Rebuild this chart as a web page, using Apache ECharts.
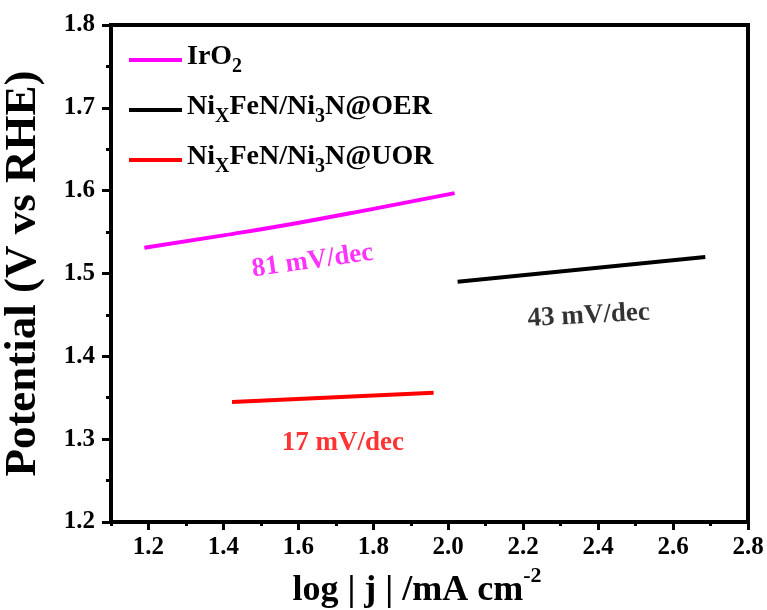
<!DOCTYPE html>
<html><head><meta charset="utf-8">
<script src="https://cdn.jsdelivr.net/npm/echarts@6/dist/echarts.min.js"></script>
<style>html,body{margin:0;padding:0;background:#fff}#c{width:767px;height:610px}</style>
</head><body><div id="c"></div>
<script>
// ---- data ----
const seriesNames = ['IrO2', 'NixFeN/Ni3N@OER', 'NixFeN/Ni3N@UOR'];
const irO2Data = [[1.189, 1.531], [1.40, 1.546], [1.598, 1.561], [1.80, 1.578], [2.017, 1.597]];
const oerData = [[2.025, 1.490], [2.686, 1.520]];
const uorData = [[1.423, 1.345], [1.961, 1.356]];
const xMajorTicks = [1.2, 1.4, 1.6, 1.8, 2.0, 2.2, 2.4, 2.6, 2.8];
const annotationTexts = ['81 mV/dec', '43 mV/dec', '17 mV/dec'];
const annotationPoints = [[1.638, 1.515], [2.375, 1.449], [1.719, 1.295]];

// ---- styles ----
const FONT = "'Liberation Serif','Times New Roman',serif";
const colors = ['#ff00ff', '#000000', '#ff0000'];
const annRotate = [8, 3, 0];
const legendRich = {
  'IrO2': '{a|IrO}{s|2}',
  'NixFeN/Ni3N@OER': '{a|Ni}{s|X}{a|FeN/Ni}{s|3}{a|N@OER}',
  'NixFeN/Ni3N@UOR': '{a|Ni}{s|X}{a|FeN/Ni}{s|3}{a|N@UOR}'
};

const chart = echarts.init(document.getElementById('c'), null, {renderer: 'canvas'});
const lineSets = [irO2Data, oerData, uorData];

const series = lineSets.map((d, i) => ({
  name: seriesNames[i], type: 'line', data: d, showSymbol: false, symbol: 'none',
  smooth: i === 0, lineStyle: {width: 4, color: colors[i]}, itemStyle: {color: colors[i]},
  xAxisIndex: 0, yAxisIndex: 0, z: 3
}));
annotationTexts.forEach((t, i) => {
  series.push({
    name: 'ann' + i, type: 'scatter', symbolSize: 0, xAxisIndex: 0, yAxisIndex: 0,
    data: [{value: annotationPoints[i], name: t}], silent: true,
    label: {show: true, position: 'inside', formatter: '{b}', rotate: annRotate[i],
      color: colors[i], fontFamily: FONT, fontWeight: 'bold', fontSize: 27}
  });
});

chart.setOption({
  animation: false,
  backgroundColor: '#ffffff',
  grid: {left: 111, right: 19, top: 25, bottom: 88, show: true, borderColor: '#000', borderWidth: 4,
    backgroundColor: 'transparent', containLabel: false, outerBoundsMode: 'none'},
  legend: {
    data: seriesNames, orient: 'vertical', left: 129, top: 37, padding: 0, itemGap: 10,
    icon: 'rect', itemWidth: 53, itemHeight: 4,
    formatter: n => legendRich[n],
    textStyle: {
      fontFamily: FONT, fontWeight: 'bold', color: '#000',
      rich: {
        a: {fontFamily: FONT, fontWeight: 'bold', fontSize: 28, lineHeight: 34, verticalAlign: 'top', color: '#000'},
        s: {fontFamily: FONT, fontWeight: 'bold', fontSize: 20, lineHeight: 20, padding: [20, 0, 0, 0], verticalAlign: 'bottom', color: '#000'}
      }
    }
  },
  xAxis: [{
    type: 'value', min: 1.1, max: 2.8, position: 'bottom',
    axisLine: {show: true, lineStyle: {color: '#000', width: 4}},
    axisTick: {show: true, customValues: xMajorTicks, length: 8, lineStyle: {color: '#000', width: 3}},
    axisLabel: {show: true, customValues: xMajorTicks, formatter: v => v.toFixed(1), margin: 13,
      fontFamily: FONT, fontWeight: 'bold', fontSize: 25, color: '#000'},
    splitLine: {show: false},
    name: '{t|log | j | /mA cm}{p|-2}', nameLocation: 'middle', nameGap: 40,
    nameTextStyle: {padding: [0, 25, 0, 0], rich: {
      t: {fontFamily: FONT, fontWeight: 'bold', fontSize: 36, lineHeight: 44, verticalAlign: 'bottom', color: '#000'},
      p: {fontFamily: FONT, fontWeight: 'bold', fontSize: 22, lineHeight: 26, verticalAlign: 'top', color: '#000'}
    }}
  }, {
    type: 'value', min: 1.1, max: 2.8, interval: 0.1, position: 'bottom', gridIndex: 0,
    axisLine: {show: false}, axisLabel: {show: false}, splitLine: {show: false},
    axisTick: {show: true, length: 4, lineStyle: {color: '#000', width: 3}}
  }],
  yAxis: [{
    type: 'value', min: 1.2, max: 1.8, interval: 0.1,
    axisLine: {show: true, lineStyle: {color: '#000', width: 4}},
    axisTick: {show: true, length: 9, lineStyle: {color: '#000', width: 3}},
    minorTick: {show: true, splitNumber: 2, length: 5, lineStyle: {color: '#000', width: 3}},
    axisLabel: {formatter: v => v.toFixed(1), margin: 16, fontFamily: FONT, fontWeight: 'bold', fontSize: 25, color: '#000'},
    splitLine: {show: false},
    name: 'Potential (V vs RHE)', nameLocation: 'middle', nameGap: 65,
    nameTextStyle: {fontFamily: FONT, fontWeight: 'bold', fontSize: 45, color: '#000'}
  }],
  series: series
});
</script>
</body></html>
